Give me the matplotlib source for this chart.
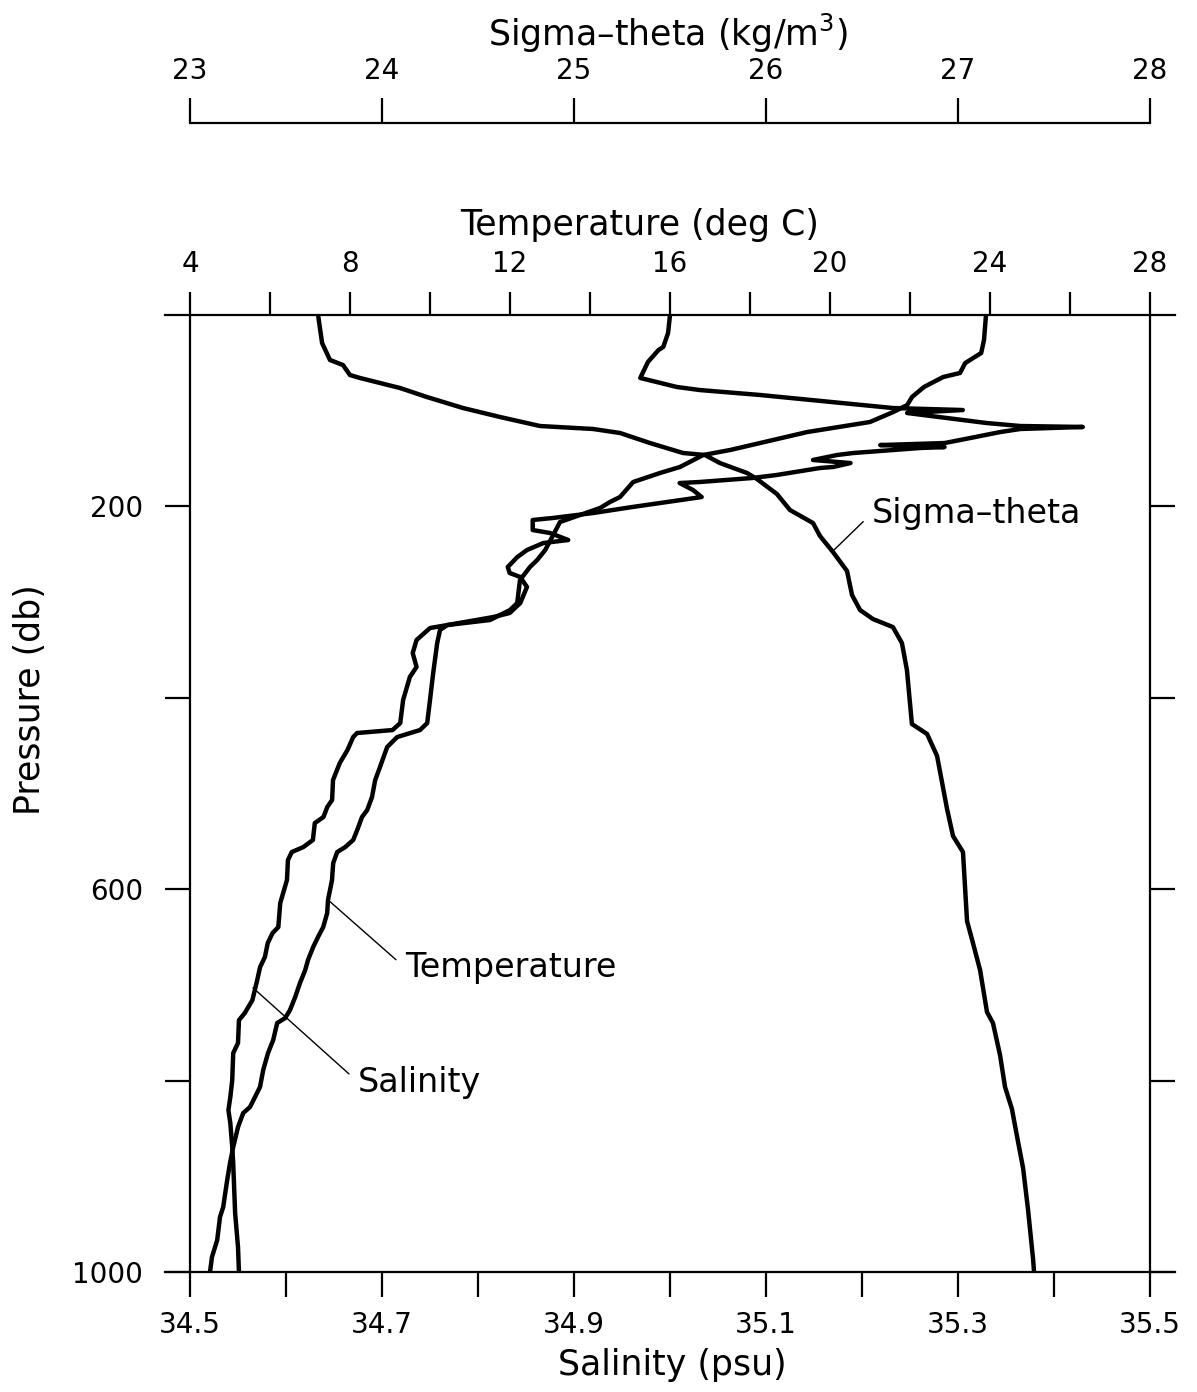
import matplotlib.pyplot as plt
from matplotlib.ticker import MultipleLocator, FixedLocator

# ---------------------------------------------------- #
# profile data (pressure in db)
sal_pres = [0, 18.8, 33.4, 36.6, 49.1, 59.6, 65.8, 69.0, 75.2, 78.4, 83.6,
            97.2, 99.3, 102.4, 112.9, 116.0, 117.0, 119.1, 122.3, 128.5,
            133.8, 135.9, 138.0, 139.0, 144.2, 146.3, 151.5, 154.7, 158.8,
            159.9, 167.2, 170.3, 174.5, 175.6, 182.9, 190.2, 195.4, 200.6,
            206.9, 212.1, 214.2, 224.7, 227.8, 235.1, 238.3, 245.6, 252.9,
            263.3, 269.6, 273.8, 284.2, 301.0, 311.4, 315.6, 324.0, 327.1,
            339.6, 353.2, 367.8, 378.3, 402.3, 426.4, 433.7, 436.8, 441.0,
            454.6, 468.2, 485.9, 506.8, 514.1, 524.6, 530.9, 548.6, 556.0,
            561.2, 569.6, 590.4, 614.5, 639.6, 645.8, 656.3, 670.9, 681.4,
            695.0, 715.9, 729.5, 736.8, 760.8, 771.3, 799.5, 817.2, 830.8,
            844.4, 869.5, 886.2, 938.4, 973.9, 1000]
salinity = [35.000, 34.998, 34.993, 34.988, 34.977, 34.972, 34.969, 34.982,
            35.007, 35.031, 35.094, 35.232, 35.305, 35.247, 35.330, 35.365,
            35.430, 35.365, 35.344, 35.313, 35.286, 35.219, 35.286, 35.260,
            35.191, 35.174, 35.149, 35.188, 35.170, 35.156, 35.111, 35.086,
            35.031, 35.010, 35.024, 35.033, 34.997, 34.961, 34.920, 34.878,
            34.857, 34.857, 34.875, 34.894, 34.868, 34.851, 34.841, 34.831,
            34.833, 34.844, 34.851, 34.844, 34.833, 34.816, 34.768, 34.750,
            34.736, 34.732, 34.736, 34.729, 34.722, 34.719, 34.711, 34.674,
            34.670, 34.664, 34.656, 34.649, 34.648, 34.643, 34.639, 34.630,
            34.628, 34.618, 34.606, 34.602, 34.601, 34.594, 34.592, 34.586,
            34.581, 34.578, 34.573, 34.570, 34.565, 34.557, 34.551, 34.550,
            34.545, 34.544, 34.542, 34.540, 34.542, 34.544, 34.545, 34.547,
            34.550, 34.551]

temp_pres = [0, 26.1, 39.7, 50.2, 60.6, 64.8, 75.2, 85.7, 94.1, 101.4, 111.8,
             122.3, 133.8, 141.1, 146.3, 158.8, 165.1, 174.5, 190.2, 195.4,
             201.7, 209.0, 216.3, 229.9, 245.6, 256.0, 263.3, 276.9, 301.0,
             308.3, 318.7, 324.0, 329.2, 342.8, 374.1, 402.3, 426.4, 433.7,
             441.0, 451.4, 472.3, 485.9, 503.7, 517.3, 524.6, 538.2, 548.6,
             556.0, 561.2, 572.7, 590.4, 611.3, 624.9, 639.6, 650.0, 660.4,
             674.0, 684.5, 698.0, 712.7, 726.3, 734.6, 739.8, 757.6, 771.3,
             789.0, 806.7, 827.6, 833.9, 848.6, 869.5, 886.2, 903.9, 932.1,
             942.6, 966.6, 984.3, 1000]
temperature = [23.90, 23.85, 23.78, 23.38, 23.25, 22.83, 22.35, 22.05, 21.93,
               21.58, 21.00, 19.43, 18.25, 17.50, 16.83, 16.25, 15.75, 15.08,
               14.75, 14.50, 14.25, 13.75, 13.25, 13.08, 12.88, 12.68, 12.50,
               12.25, 12.18, 12.00, 11.50, 10.43, 10.25, 10.18, 10.08, 10.00,
               9.93, 9.75, 9.18, 8.93, 8.75, 8.63, 8.55, 8.43, 8.30, 8.18,
               8.08, 7.88, 7.68, 7.58, 7.55, 7.45, 7.43, 7.33, 7.20, 7.08,
               6.95, 6.88, 6.75, 6.63, 6.50, 6.38, 6.18, 6.08, 5.95, 5.83,
               5.75, 5.50, 5.33, 5.20, 5.08, 5.00, 4.93, 4.83, 4.75, 4.68,
               4.55, 4.50]

sig_pres = [0, 29.3, 47.0, 52.3, 62.7, 65.8, 76.3, 85.7, 97.2, 106.6, 116.0,
            119.1, 123.3, 133.8, 144.2, 146.3, 154.7, 165.1, 171.4, 187.1,
            203.8, 217.4, 230.9, 247.7, 267.5, 292.6, 308.3, 317.7, 326.1,
            342.8, 371.0, 427.4, 437.8, 460.8, 516.2, 544.4, 561.2, 633.2,
            656.3, 684.5, 728.4, 739.8, 773.3, 806.7, 829.7, 857.9, 891.4,
            935.3, 986.5, 1000]
sigma_theta = [23.667, 23.688, 23.729, 23.797, 23.833, 23.885, 24.094, 24.234,
               24.422, 24.615, 24.823, 25.099, 25.240, 25.396, 25.568, 25.682,
               25.760, 25.901, 25.953, 26.057, 26.125, 26.245, 26.281, 26.349,
               26.422, 26.448, 26.490, 26.557, 26.661, 26.708, 26.734, 26.760,
               26.839, 26.891, 26.943, 26.974, 27.026, 27.047, 27.078, 27.115,
               27.151, 27.182, 27.219, 27.245, 27.281, 27.307, 27.339, 27.365,
               27.391, 27.396]

# ---------------------------------------------------- #
W_PX, H_PX = 1197, 1392
FS = 20          # tick labels
FS_T = 25        # axis titles
FS_L = 24        # curve labels
LW_AX = 1.6
TL = 18


def fx(px):
    return px / W_PX


def fy(py):
    return 1 - py / H_PX


fig = plt.figure(figsize=(W_PX / 100, H_PX / 100), dpi=100)
plt.rcParams['font.family'] = ['DejaVu Sans']

rect = [fx(190), fy(1272), fx(1150) - fx(190), fy(315) - fy(1272)]
ax = fig.add_axes(rect)          # salinity (bottom) + pressure
ax.plot(salinity, sal_pres, color='k', lw=3.2, solid_joinstyle='round')
ax.set_xlim(34.5, 35.5)
ax.set_ylim(1000, 0)

ax.xaxis.set_major_locator(FixedLocator([34.5, 34.7, 34.9, 35.1, 35.3, 35.5]))
ax.xaxis.set_minor_locator(FixedLocator([34.6, 34.8, 35.0, 35.2, 35.4]))
ax.set_xticklabels(['34.5', '34.7', '34.9', '35.1', '35.3', '35.5'])
ax.yaxis.set_major_locator(FixedLocator([200, 600, 1000]))
ax.yaxis.set_minor_locator(FixedLocator([400, 800]))
ax.tick_params(which='both', direction='out', length=TL, width=LW_AX,
               labelsize=FS, right=True)
ax.tick_params(axis='x', pad=10)
ax.tick_params(axis='y', pad=16)
for s in ('top', 'bottom'):
    ax.spines[s].set_visible(False)
for s in ('left', 'right'):
    ax.spines[s].set_linewidth(LW_AX)

# extended horizontal frame lines
for yy in (0, 1):
    ax.plot([-0.026, 1.026], [yy, yy], transform=ax.transAxes, color='k',
            lw=LW_AX, clip_on=False)

# temperature on top
ax_t = ax.twiny()
ax_t.plot(temperature, temp_pres, color='k', lw=3.2, solid_joinstyle='round')
ax_t.set_xlim(4, 28)
ax_t.xaxis.set_major_locator(MultipleLocator(4))
ax_t.xaxis.set_minor_locator(MultipleLocator(2))
ax_t.tick_params(which='both', direction='out', length=16.5, width=LW_AX,
                 labelsize=FS, pad=10)
for s in ax_t.spines.values():
    s.set_visible(False)

# sigma-theta in the same box
ax_s = ax.twiny()
ax_s.plot(sigma_theta, sig_pres, color='k', lw=3.2, solid_joinstyle='round')
ax_s.set_xlim(23, 28)
ax_s.xaxis.set_visible(False)
for s in ax_s.spines.values():
    s.set_visible(False)

# separate sigma-theta scale
ax_sc = fig.add_axes([rect[0], fy(123), rect[2], 1e-4])
ax_sc.set_xlim(23, 28)
ax_sc.set_yticks([])
ax_sc.xaxis.set_major_locator(MultipleLocator(1))
ax_sc.xaxis.tick_top()
ax_sc.tick_params(direction='out', length=TL, width=LW_AX, labelsize=FS, pad=9)
for s in ('left', 'right', 'bottom'):
    ax_sc.spines[s].set_visible(False)
ax_sc.spines['top'].set_linewidth(LW_AX)
ax_sc.patch.set_visible(False)

# axis titles
fig.text(fx(668), fy(33), 'Sigma\u2013theta (kg/m$^3$)', fontsize=FS_T,
         ha='center', va='center')
fig.text(fx(640), fy(225), 'Temperature (deg C)', fontsize=FS_T,
         ha='center', va='center')
fig.text(fx(672), fy(1365), 'Salinity (psu)', fontsize=FS_T,
         ha='center', va='center')
fig.text(fx(30), fy(700), 'Pressure (db)', fontsize=FS_T, rotation=90,
         ha='center', va='center')

# curve labels
arrow = dict(arrowstyle='-', lw=1.0, color='k', shrinkA=6, shrinkB=0,
             relpos=(0, 0.5))
ax_s.annotate('Sigma\u2013theta', xy=(26.354, 245.6), xytext=(26.552, 207),
              fontsize=FS_L, ha='left', va='center', arrowprops=arrow)
ax_t.annotate('Temperature', xy=(7.5, 613), xytext=(9.375, 682),
              fontsize=FS_L, ha='left', va='center', arrowprops=arrow)
ax.annotate('Salinity', xy=(34.5656, 703), xytext=(34.675, 801.5),
            fontsize=FS_L, ha='left', va='center', arrowprops=arrow)

fig.savefig('out.png', dpi=100)
